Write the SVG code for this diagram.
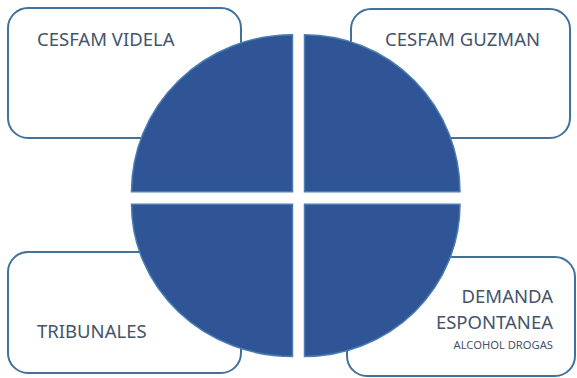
<svg xmlns="http://www.w3.org/2000/svg" width="577" height="378" viewBox="0 0 577 378">
<style>
.box{fill:#ffffff;stroke:#41719c;stroke-width:2}
.q{fill:#2f5597;stroke:#4a7db3;stroke-width:1.5}
.t{font-family:"Noto Sans","Open Sans",sans-serif;font-size:18.5px;fill:#44546a}
.s{font-family:"Noto Sans","Open Sans",sans-serif;font-size:11.2px;fill:#44546a}
</style>
<rect width="577" height="378" fill="#ffffff"/>
<g id="box-videla"><rect class="box" x="8" y="8" width="233" height="130" rx="20"/><text class="t" x="37" y="46">CESFAM VIDELA</text></g>
<g id="box-guzman"><rect class="box" x="351" y="9" width="219" height="129" rx="20"/><text class="t" x="385" y="46">CESFAM GUZMAN</text></g>
<g id="box-tribunales"><rect class="box" x="8" y="252" width="233" height="121" rx="20"/><text class="t" x="37" y="338">TRIBUNALES</text></g>
<g id="box-demanda"><rect class="box" x="347" y="257" width="228" height="119" rx="20"/><text class="t" x="553" y="303" text-anchor="end">DEMANDA</text><text class="t" x="553" y="329" text-anchor="end">ESPONTANEA</text><text class="s" x="553" y="349" text-anchor="end">ALCOHOL DROGAS</text></g>
<g id="quadrant-tl"><path class="q" d="M292.5 191.7 L131.5 191.7 A161 157 0 0 1 292.5 34.7 Z"/></g>
<g id="quadrant-tr"><path class="q" d="M304.5 191.7 L304.5 34.7 A155.5 157 0 0 1 460 191.7 Z"/></g>
<g id="quadrant-bl"><path class="q" d="M292.5 204.3 L292.5 356.5 A161 152.2 0 0 1 131.5 204.3 Z"/></g>
<g id="quadrant-br"><path class="q" d="M304.5 204.3 L460 204.3 A155.5 152.2 0 0 1 304.5 356.5 Z"/></g>
<g id="connectors"></g>
</svg>
